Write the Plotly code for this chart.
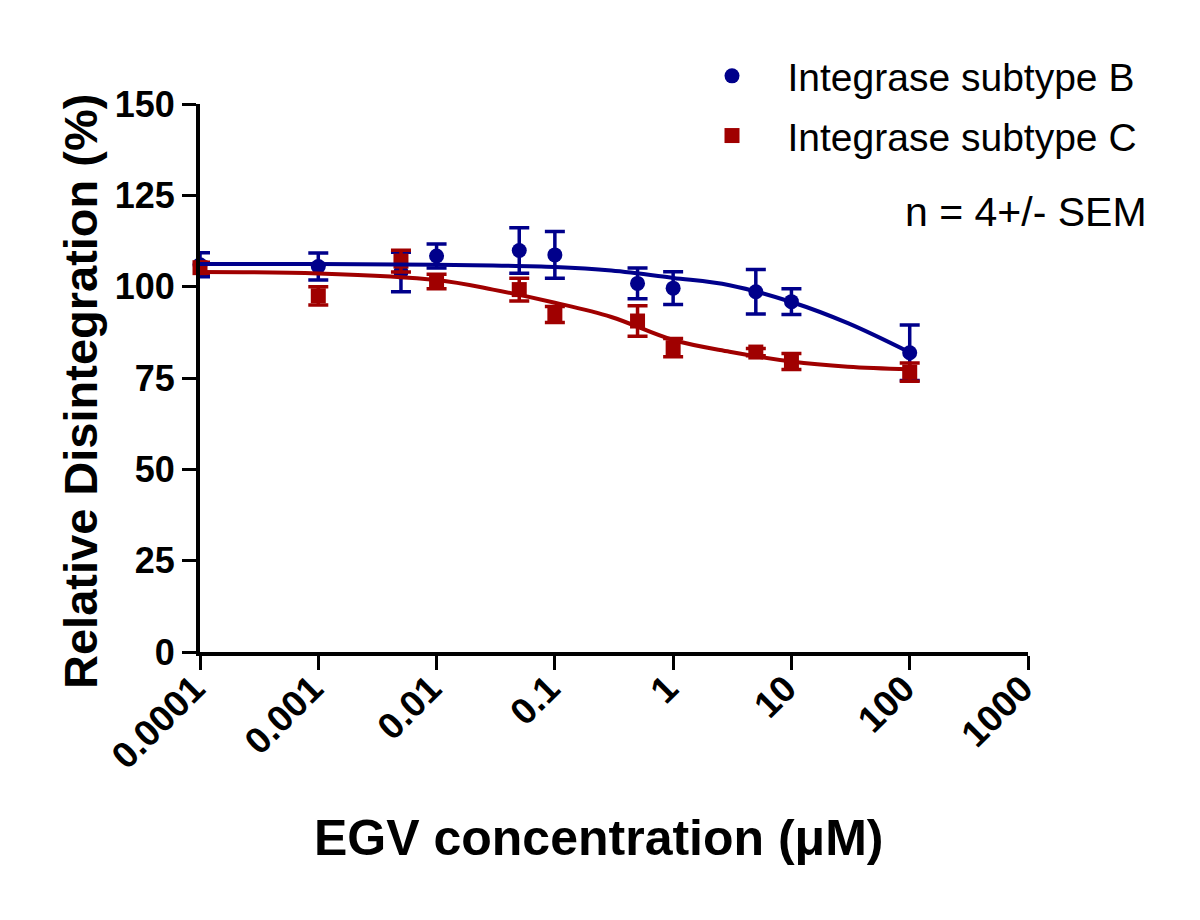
import plotly.graph_objects as go

# ---- data ----
conc = [0.0001, 0.001, 0.005, 0.01, 0.05, 0.1, 0.5, 1, 5, 10, 100]
b_mean = [106.0, 105.5, 104.0, 108.4, 109.9, 108.7, 100.9, 99.6, 98.6, 95.9, 81.9]
b_sem = [3.3, 3.7, 5.4, 3.3, 6.2, 6.4, 4.2, 4.5, 6.1, 3.5, 7.6]
c_mean = [105.2, 97.5, 107.0, 101.4, 99.2, 92.4, 90.6, 83.3, 82.1, 79.5, 76.6]
c_sem = [1.5, 2.5, 3.0, 2.0, 3.1, 2.2, 4.2, 2.5, 1.0, 2.2, 2.5]

fit_x = [0.0001, 0.001, 0.01, 0.03, 0.1, 0.3, 1, 3, 10, 30, 100]
b_fit = [106.2, 106.2, 106.0, 105.8, 105.4, 104.4, 102.4, 100.4, 95.8, 90.0, 82.0]
c_fit = [104.0, 103.6, 101.8, 99.2, 95.6, 91.7, 85.4, 82.2, 79.5, 78.1, 77.4]

tick_vals = [0.0001, 0.001, 0.01, 0.1, 1, 10, 100, 1000]
tick_text = ["0.0001", "0.001", "0.01", "0.1", "1", "10", "100", "1000"]

name_b = "Integrase subtype B"
name_c = "Integrase subtype C"
BLUE = "#00008B"
RED = "#A00000"
FONT = "Liberation Sans, Arial, sans-serif"
NB = "\u00a0\u00a0\u00a0"

fig = go.Figure()

fig.add_trace(go.Scatter(
    x=conc, y=b_mean, mode="markers", name=NB + name_b,
    legendgroup="B",
    marker=dict(symbol="circle", size=15, color=BLUE),
    error_y=dict(type="data", array=b_sem, color=BLUE, thickness=3.5, width=10),
    cliponaxis=False,
))
fig.add_trace(go.Scatter(
    x=conc, y=c_mean, mode="markers", name=NB + name_c,
    legendgroup="C",
    marker=dict(symbol="square", size=15, color=RED),
    error_y=dict(type="data", array=c_sem, color=RED, thickness=3.5, width=10),
    cliponaxis=False,
))
fig.add_trace(go.Scatter(
    x=fit_x, y=c_fit, mode="lines", showlegend=False,
    line=dict(color=RED, width=4, shape="spline"), cliponaxis=False,
))
fig.add_trace(go.Scatter(
    x=fit_x, y=b_fit, mode="lines", showlegend=False,
    line=dict(color=BLUE, width=4, shape="spline"), cliponaxis=False,
))

fig.update_xaxes(
    type="log", range=[-4, 3], tickvals=tick_vals, ticktext=tick_text,
    tickangle=-45, showline=True, linecolor="black", linewidth=4,
    ticks="outside", ticklen=14, tickwidth=3, tickcolor="black",
    showgrid=False, zeroline=False, ticklabelstandoff=-18, ticklabelshift=-6,
    tickfont=dict(family=FONT, size=37, color="black", weight="bold"),
)
fig.update_yaxes(
    range=[0, 150], tickvals=[0, 25, 50, 75, 100, 125, 150],
    showline=True, linecolor="black", linewidth=4,
    ticks="outside", ticklen=14, tickwidth=3, tickcolor="black",
    showgrid=False, zeroline=False,
    tickfont=dict(family=FONT, size=36, color="black", weight="bold"),
)

# page body has an 8px default margin, so the figure is 8px smaller
fig.update_layout(
    width=1192, height=912,
    margin=dict(l=192, r=172, t=96, b=268, autoexpand=False),
    paper_bgcolor="white", plot_bgcolor="white",
    font=dict(family=FONT, color="black"),
    legend=dict(
        x=(732 - 23 - 200) / 828, y=(652 - 44) / 548,
        xanchor="left", yanchor="top",
        font=dict(family=FONT, size=39, color="black"),
        itemwidth=36, traceorder="grouped", tracegroupgap=6,
        bgcolor="rgba(0,0,0,0)",
    ),
    annotations=[
        dict(text="n = 4+/- SEM", xref="paper", yref="paper",
             x=(1149 - 200) / 828, y=(652 - 212) / 548,
             xanchor="right", yanchor="middle", showarrow=False,
             font=dict(family=FONT, size=41, color="black")),
        dict(text="EGV concentration (\u03bcM)", xref="paper", yref="paper",
             x=(599 - 200) / 828, y=(652 - 838) / 548,
             xanchor="center", yanchor="middle", showarrow=False,
             font=dict(family=FONT, size=50, color="black", weight="bold")),
        dict(text="Relative Disintegration (%)", xref="paper", yref="paper",
             x=(80 - 200) / 828, y=(652 - 392) / 548, textangle=-90,
             xanchor="center", yanchor="middle", showarrow=False,
             font=dict(family=FONT, size=47, color="black", weight="bold")),
    ],
)

fig.write_html("out.html")
